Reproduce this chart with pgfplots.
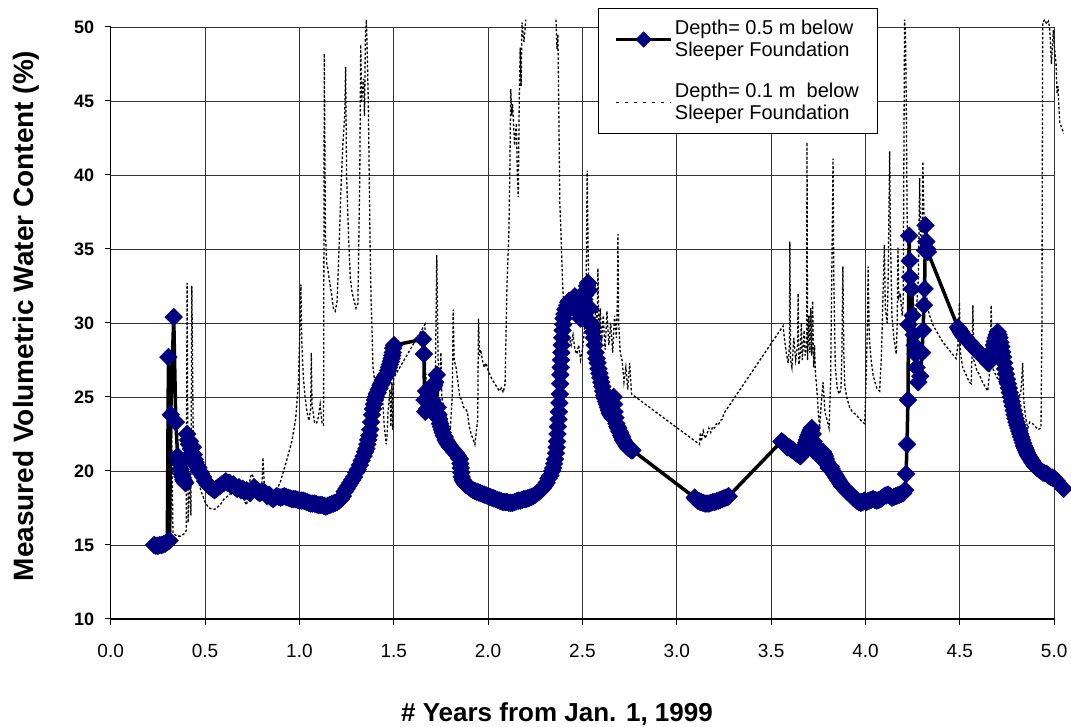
\documentclass[border=0pt]{standalone}
\usepackage{pgfplots}
\pgfplotsset{compat=1.18}
\usepackage{fontspec}
\setmainfont{Liberation Sans}
\definecolor{navy}{RGB}{0,0,128}

\pgfplotstableread{
x y
0.230 15.0
0.240 14.95
0.250 14.95
0.260 15.0
0.270 15.0
0.280 15.05
0.290 15.1
0.300 15.2
0.306 27.7
0.312 15.3
0.318 23.8
0.334 30.4
0.345 23.3
0.355 21.0
0.360 20.8
0.365 20.5
0.370 20.1
0.375 19.8
0.380 19.6
0.385 19.4
0.390 19.3
0.395 19.2
0.405 22.5
0.410 22.1
0.415 21.8
0.420 22.0
0.425 21.5
0.430 21.2
0.436 21.6
0.440 21.1
0.445 20.8
0.450 20.6
0.455 20.4
0.460 20.3
0.465 20.2
0.470 20.0
0.475 19.9
0.480 19.8
0.490 19.6
0.500 19.3
0.510 19.2
0.520 19.0
0.530 18.9
0.540 18.8
0.550 18.7
0.560 18.8
0.570 18.9
0.580 19.0
0.590 19.1
0.600 19.2
0.610 19.3
0.620 19.2
0.630 19.2
0.640 19.0
0.650 19.1
0.660 18.9
0.670 18.8
0.680 18.9
0.690 18.7
0.700 18.8
0.710 18.6
0.720 18.7
0.730 18.6
0.740 18.5
0.750 18.7
0.760 18.9
0.770 18.7
0.780 18.6
0.790 18.5
0.800 18.6
0.810 18.6
0.820 18.5
0.830 18.3
0.840 18.4
0.850 18.2
0.860 18.1
0.870 18.2
0.880 18.3
0.890 18.25
0.900 18.2
0.910 18.25
0.920 18.3
0.930 18.25
0.940 18.2
0.950 18.15
0.960 18.1
0.970 18.1
0.980 18.1
0.990 18.05
1.000 18.0
1.010 18.0
1.020 18.0
1.030 17.95
1.040 17.9
1.050 17.85
1.060 17.8
1.070 17.8
1.080 17.8
1.090 17.75
1.100 17.7
1.110 17.7
1.120 17.7
1.130 17.65
1.140 17.6
1.150 17.65
1.160 17.7
1.170 17.75
1.180 17.8
1.190 17.85
1.200 17.9
1.210 18.0
1.220 18.1
1.230 18.3
1.240 18.6
1.250 18.8
1.260 19.0
1.270 19.2
1.280 19.4
1.290 19.6
1.300 19.9
1.310 20.1
1.320 20.4
1.330 20.7
1.340 21.0
1.348 21.3
1.355 21.5
1.360 21.8
1.365 22.1
1.370 22.4
1.375 22.8
1.380 23.3
1.385 23.8
1.390 24.2
1.395 24.5
1.400 24.8
1.405 25.0
1.410 25.2
1.415 25.3
1.420 25.5
1.425 25.6
1.430 25.8
1.435 25.9
1.440 26.0
1.445 26.2
1.450 26.3
1.455 26.4
1.460 26.5
1.465 26.6
1.470 26.8
1.475 27.0
1.480 27.2
1.485 27.4
1.489 27.6
1.492 27.8
1.495 28.0
1.497 28.3
1.502 28.5
1.655 28.9
1.660 27.9
1.663 24.8
1.667 24.0
1.672 25.4
1.677 24.2
1.683 25.0
1.690 24.4
1.695 24.2
1.700 24.0
1.705 24.8
1.710 25.6
1.715 25.8
1.720 26.0
1.728 26.5
1.733 24.3
1.737 23.8
1.740 23.5
1.745 23.2
1.750 23.0
1.755 22.8
1.760 22.6
1.765 22.4
1.770 22.3
1.775 22.1
1.780 22.0
1.785 21.9
1.790 21.8
1.795 21.7
1.800 21.6
1.805 21.55
1.810 21.5
1.815 21.4
1.820 21.3
1.825 21.25
1.830 21.2
1.835 21.1
1.840 21.0
1.845 20.9
1.850 20.8
1.853 20.5
1.855 20.2
1.858 19.9
1.860 19.6
1.865 19.4
1.870 19.3
1.875 19.2
1.880 19.1
1.885 19.05
1.890 19.0
1.900 18.9
1.910 18.8
1.920 18.7
1.930 18.65
1.940 18.6
1.950 18.55
1.960 18.5
1.970 18.45
1.980 18.4
1.990 18.35
2.000 18.3
2.010 18.25
2.020 18.2
2.030 18.15
2.040 18.1
2.050 18.05
2.060 18.0
2.070 17.95
2.080 17.9
2.090 17.9
2.100 17.9
2.110 17.85
2.120 17.85
2.130 17.85
2.140 17.9
2.150 17.95
2.160 18.0
2.170 18.0
2.180 18.05
2.190 18.1
2.200 18.1
2.210 18.15
2.220 18.2
2.230 18.25
2.240 18.3
2.250 18.4
2.260 18.5
2.270 18.6
2.280 18.7
2.290 18.85
2.300 19.0
2.310 19.2
2.320 19.5
2.330 19.7
2.340 20.0
2.345 20.2
2.350 20.5
2.355 20.8
2.360 21.2
2.363 21.6
2.365 22.0
2.368 22.5
2.370 23.0
2.373 23.5
2.375 24.0
2.378 24.6
2.380 25.2
2.382 25.9
2.383 26.5
2.385 27.0
2.386 27.5
2.388 28.0
2.390 28.5
2.393 29.0
2.395 29.5
2.398 29.9
2.400 30.3
2.405 30.6
2.410 30.9
2.415 31.0
2.420 31.2
2.425 31.4
2.430 31.5
2.435 31.4
2.440 31.3
2.445 31.4
2.450 31.5
2.455 31.7
2.460 31.8
2.465 31.6
2.470 31.4
2.475 31.2
2.480 31.0
2.485 30.6
2.490 30.3
2.495 30.4
2.500 30.6
2.505 31.1
2.510 31.6
2.515 31.9
2.520 32.2
2.525 32.5
2.530 32.7
2.535 32.2
2.540 31.0
2.545 30.0
2.550 29.8
2.555 29.4
2.560 29.0
2.565 28.5
2.570 28.0
2.575 27.6
2.580 27.3
2.585 26.9
2.590 26.6
2.595 26.3
2.600 26.0
2.605 25.7
2.610 25.4
2.615 25.1
2.620 24.9
2.625 24.7
2.630 24.5
2.635 24.3
2.640 24.1
2.645 23.9
2.650 23.8
2.655 23.7
2.660 23.6
2.665 25.0
2.668 24.5
2.670 24.0
2.675 23.6
2.680 23.2
2.685 23.0
2.690 22.9
2.695 22.7
2.700 22.6
2.705 22.4
2.710 22.3
2.715 22.1
2.720 22.0
2.725 21.9
2.730 21.8
2.735 21.7
2.740 21.6
2.745 21.55
2.750 21.5
2.755 21.45
2.760 21.4
2.765 21.4
3.095 18.2
3.100 18.1
3.110 18.0
3.120 17.95
3.125 17.9
3.130 17.9
3.140 17.85
3.150 17.8
3.160 17.8
3.170 17.8
3.180 17.85
3.190 17.9
3.200 17.9
3.210 17.95
3.220 18.0
3.230 18.05
3.240 18.1
3.250 18.15
3.260 18.2
3.270 18.25
3.275 18.3
3.555 22.0
3.560 21.95
3.565 21.9
3.570 21.85
3.575 21.8
3.580 21.7
3.585 21.6
3.590 21.6
3.595 21.6
3.600 21.55
3.605 21.5
3.610 21.45
3.615 21.4
3.620 21.35
3.625 21.3
3.630 21.25
3.635 21.2
3.640 21.15
3.645 21.1
3.650 21.05
3.655 21.0
3.660 21.1
3.665 21.2
3.670 21.35
3.675 21.5
3.680 21.7
3.685 21.9
3.690 22.1
3.695 22.3
3.700 22.45
3.705 22.6
3.710 22.75
3.715 22.9
3.720 22.5
3.725 22.0
3.730 21.8
3.735 21.6
3.740 21.4
3.745 21.2
3.750 21.1
3.755 21.0
3.760 20.95
3.765 20.9
3.770 21.1
3.775 21.3
3.780 21.15
3.785 21.0
3.790 20.8
3.795 20.6
3.800 20.4
3.805 20.2
3.810 20.25
3.815 20.3
3.820 20.15
3.825 20.0
3.830 19.9
3.835 19.8
3.840 19.7
3.845 19.6
3.850 19.5
3.855 19.4
3.860 19.3
3.865 19.2
3.870 19.1
3.875 19.0
3.880 18.95
3.885 18.9
3.890 18.8
3.895 18.7
3.900 18.65
3.905 18.6
3.910 18.55
3.915 18.5
3.920 18.45
3.925 18.4
3.930 18.3
3.935 18.2
3.940 18.15
3.945 18.1
3.950 18.05
3.955 18.0
3.960 17.95
3.965 17.9
3.970 17.9
3.975 17.85
3.980 17.9
3.985 17.9
3.990 17.95
3.995 18.0
4.005 17.9
4.010 17.95
4.020 18.0
4.030 18.05
4.040 18.1
4.050 18.05
4.060 18.0
4.070 18.05
4.080 18.1
4.090 18.2
4.100 18.3
4.110 18.35
4.120 18.4
4.130 18.3
4.140 18.2
4.150 18.25
4.160 18.3
4.170 18.35
4.180 18.4
4.190 18.45
4.200 18.5
4.210 18.7
4.215 19.8
4.220 21.8
4.225 24.8
4.228 29.9
4.231 35.9
4.234 34.2
4.237 33.1
4.245 32.3
4.250 30.5
4.255 29.2
4.260 28.5
4.265 27.9
4.270 27.0
4.280 26.0
4.290 26.4
4.300 28.0
4.305 29.5
4.310 31.2
4.313 32.3
4.316 34.9
4.318 36.6
4.322 35.5
4.326 35.0
4.330 34.8
4.490 29.7
4.495 29.6
4.500 29.5
4.505 29.4
4.510 29.3
4.515 29.2
4.520 29.1
4.525 29.05
4.530 29.0
4.535 28.9
4.540 28.8
4.545 28.75
4.550 28.7
4.555 28.65
4.560 28.6
4.565 28.5
4.570 28.4
4.575 28.35
4.580 28.3
4.585 28.2
4.590 28.1
4.595 28.05
4.600 28.0
4.605 27.95
4.610 27.9
4.615 27.85
4.620 27.8
4.625 27.7
4.630 27.6
4.635 27.55
4.640 27.5
4.645 27.4
4.650 27.3
4.655 27.35
4.660 27.4
4.665 27.6
4.670 27.9
4.675 28.2
4.680 28.5
4.685 28.75
4.690 29.0
4.695 29.2
4.700 29.4
4.705 29.2
4.710 29.0
4.715 28.7
4.720 28.4
4.725 28.05
4.730 27.7
4.735 27.3
4.740 26.9
4.745 26.55
4.750 26.2
4.755 25.9
4.760 25.6
4.765 25.3
4.770 25.0
4.775 24.7
4.780 24.4
4.785 24.1
4.790 23.8
4.795 23.55
4.800 23.3
4.805 23.1
4.810 22.9
4.815 22.7
4.820 22.5
4.825 22.3
4.830 22.1
4.835 21.9
4.840 21.7
4.845 21.55
4.850 21.4
4.855 21.25
4.860 21.1
4.865 21.0
4.870 20.9
4.875 20.8
4.880 20.7
4.885 20.6
4.890 20.5
4.895 20.4
4.900 20.3
4.910 20.2
4.920 20.1
4.930 20.0
4.940 19.9
4.950 19.85
4.960 19.8
4.970 19.7
4.980 19.6
4.990 19.55
5.000 19.5
5.015 19.3
5.050 18.8
}\deepA

\pgfplotstableread{
x y
0.318 15.3
0.322 23.7
0.330 15.8
0.350 15.6
0.370 15.6
0.395 15.8
0.400 16.0
0.405 32.7
0.410 16.5
0.420 20.0
0.425 17.0
0.430 32.5
0.438 21.5
0.445 20.3
0.460 19.5
0.480 18.6
0.500 17.9
0.520 17.5
0.550 17.4
0.580 17.7
0.600 18.1
0.630 18.4
0.660 18.9
0.680 18.6
0.700 18.2
0.720 17.7
0.730 18.5
0.740 19.6
0.750 19.8
0.760 19.3
0.770 18.6
0.780 18.3
0.800 18.6
0.807 20.9
0.815 18.8
0.840 18.5
0.860 18.5
0.880 18.7
0.900 19.3
0.930 20.6
0.960 22.0
0.980 23.5
0.995 26.0
1.003 30.0
1.008 32.6
1.012 29.0
1.020 26.5
1.030 25.0
1.040 24.0
1.050 23.4
1.060 24.2
1.063 28.0
1.067 24.5
1.080 23.3
1.090 23.2
1.100 23.6
1.110 24.5
1.120 23.2
1.128 23.1
1.132 48.2
1.138 36.0
1.145 34.0
1.150 33.7
1.160 32.8
1.170 32.0
1.180 31.0
1.190 30.8
1.200 31.5
1.210 35.0
1.220 39.0
1.230 42.0
1.240 44.0
1.245 47.3
1.250 40.0
1.260 36.0
1.270 33.0
1.280 32.0
1.290 31.5
1.300 31.0
1.310 31.3
1.320 40.0
1.325 48.8
1.330 45.0
1.340 46.5
1.345 44.0
1.350 49.5
1.355 50.5
1.360 48.0
1.365 45.0
1.370 40.0
1.375 35.0
1.380 31.5
1.385 29.5
1.390 27.0
1.400 26.0
1.410 25.4
1.420 25.8
1.430 25.6
1.440 25.0
1.450 23.0
1.460 21.8
1.465 22.5
1.470 24.0
1.480 25.5
1.485 23.0
1.490 26.0
1.495 22.8
1.500 26.3
1.665 29.9
1.668 27.0
1.675 25.4
1.690 26.0
1.700 25.2
1.720 25.8
1.728 34.6
1.735 27.5
1.745 26.0
1.750 28.0
1.755 25.0
1.770 24.0
1.790 23.0
1.800 22.9
1.810 25.0
1.815 30.9
1.820 27.5
1.830 27.0
1.840 26.0
1.850 25.0
1.860 24.8
1.870 24.3
1.880 24.2
1.890 24.0
1.900 23.0
1.910 22.5
1.930 21.8
1.945 23.5
1.949 30.3
1.955 27.8
1.960 28.2
1.970 27.5
1.980 27.0
1.990 27.3
2.000 26.8
2.010 26.5
2.020 26.2
2.030 26.0
2.040 25.8
2.050 25.6
2.060 25.4
2.070 25.6
2.080 25.3
2.090 25.9
2.100 32.6
2.110 36.0
2.115 40.0
2.120 45.8
2.125 44.0
2.130 44.8
2.140 42.0
2.150 43.5
2.155 40.0
2.160 38.5
2.165 45.0
2.170 48.6
2.175 46.0
2.180 50.3
2.190 49.0
2.200 50.5
}\shallowA

\pgfplotstableread{
x y
2.360 50.5
2.365 48.5
2.370 49.5
2.375 44.0
2.380 38.1
2.385 36.5
2.390 34.5
2.395 32.6
2.400 31.5
2.410 30.0
2.420 29.5
2.430 29.0
2.440 28.5
2.450 29.2
2.460 28.2
2.470 27.9
2.480 28.5
2.490 27.5
2.500 28.2
2.510 29.5
2.520 33.0
2.525 40.3
2.530 35.0
2.535 31.5
2.540 30.5
2.550 31.5
2.560 29.5
2.570 31.0
2.578 30.0
2.582 33.7
2.588 29.0
2.595 31.0
2.600 28.5
2.610 30.5
2.620 28.2
2.630 30.8
2.640 28.5
2.650 30.0
2.660 28.0
2.670 30.5
2.680 29.0
2.685 31.5
2.688 36.0
2.692 30.0
2.700 28.0
2.710 27.5
2.720 26.0
2.730 27.0
2.740 25.5
2.750 27.3
2.760 25.2
3.120 21.8
3.125 22.6
3.130 22.0
3.140 22.7
3.150 22.2
3.160 22.5
3.170 22.9
3.180 22.6
3.190 23.0
3.200 22.9
3.210 23.2
3.220 23.1
3.230 23.4
3.240 23.5
3.250 23.9
3.563 29.8
3.570 29.0
3.580 28.0
3.590 27.3
3.597 28.5
3.599 35.5
3.603 27.5
3.610 27.0
3.620 29.0
3.630 27.5
3.640 28.5
3.643 32.0
3.647 27.2
3.655 28.0
3.660 30.0
3.665 27.5
3.675 29.5
3.680 27.8
3.688 28.5
3.690 42.2
3.693 27.5
3.700 30.5
3.705 28.0
3.710 31.0
3.715 27.8
3.720 31.5
3.725 27.0
3.730 28.5
3.735 26.5
3.740 25.9
3.750 24.0
3.757 22.9
3.765 24.5
3.775 26.0
3.785 24.0
3.795 23.5
3.807 22.9
3.815 26.0
3.822 34.0
3.828 41.1
3.832 33.0
3.840 27.0
3.850 25.6
3.860 25.2
3.870 25.5
3.875 28.0
3.880 33.8
3.885 28.0
3.890 25.8
3.900 25.0
3.916 24.3
3.930 24.0
3.950 23.8
3.970 23.5
3.985 23.3
3.996 23.2
4.005 27.0
4.010 30.0
4.014 33.8
4.020 29.0
4.030 27.5
4.040 26.5
4.050 26.0
4.060 25.6
4.075 25.4
4.085 28.0
4.095 33.0
4.100 35.3
4.105 31.0
4.115 30.0
4.120 33.0
4.128 41.6
4.132 36.0
4.140 30.5
4.150 29.0
4.163 27.9
4.168 30.0
4.172 35.1
4.176 31.7
4.185 32.0
4.190 31.0
4.195 30.5
4.200 31.5
4.203 40.0
4.207 50.5
4.212 49.5
4.216 45.0
4.220 38.0
4.225 32.0
4.233 31.2
4.240 30.5
4.250 31.5
4.260 31.0
4.270 30.8
4.280 33.0
4.287 39.8
4.292 35.0
4.300 36.0
4.304 40.9
4.310 37.0
4.315 34.0
4.320 32.5
4.330 31.0
4.340 30.5
4.360 29.8
4.410 28.7
4.480 27.6
4.490 28.5
4.498 31.4
4.503 28.0
4.515 27.0
4.533 26.5
4.550 26.0
4.560 25.9
4.565 28.0
4.569 31.2
4.574 27.5
4.590 26.8
4.604 26.5
4.620 26.0
4.648 25.4
4.660 27.0
4.666 31.2
4.672 27.0
4.690 26.5
4.710 26.0
4.730 25.6
4.750 25.4
4.770 25.2
4.790 25.0
4.810 24.8
4.825 25.5
4.833 27.3
4.838 25.0
4.842 24.3
4.850 23.5
4.860 22.9
4.870 23.3
4.886 23.2
4.900 23.0
4.915 22.8
4.930 22.9
4.935 30.0
4.939 50.3
4.950 50.5
4.960 50.2
4.970 50.4
4.975 50.0
4.980 49.0
4.985 47.5
4.990 48.5
4.995 49.8
5.000 48.8
5.010 47.5
5.015 45.5
5.020 46.0
5.025 44.5
5.030 43.5
5.040 43.2
5.050 42.8
}\shallowB

\begin{document}
\begin{tikzpicture}
\begin{axis}[
  name=ax,
  at={(0,0)}, anchor=south west,
  scale only axis,
  width=943.5pt, height=592pt,
  xmin=0, xmax=5, ymin=10, ymax=50,
  clip=false,
  axis x line=bottom, axis y line=left,
  axis line style={-, line width=1.2pt, black},
  xtick={0,0.5,1,1.5,2,2.5,3,3.5,4,4.5,5},
  ytick={10,15,20,25,30,35,40,45,50},
  tick align=outside, major tick length=6pt,
  tick style={black, line width=1pt},
  grid=major, grid style={black!80, line width=0.8pt},
  /pgf/number format/assume math mode=true,
  xticklabel style={font=\fontsize{19}{20}\selectfont, yshift=-16pt, /pgf/number format/.cd, fixed, fixed zerofill, precision=1},
  yticklabel style={font=\fontsize{18}{20}\selectfont\bfseries, xshift=-7pt},
  xlabel={\# Years from Jan. 1, 1999},
  ylabel={Measured Volumetric Water Content (\%)},
  xlabel style={font=\fontsize{26}{28}\selectfont\bfseries, at={(axis description cs:0.473,-0.16)}, anchor=center},
  ylabel style={font=\fontsize{28}{30}\selectfont\bfseries, at={(axis description cs:-0.09,0.512)}, anchor=center},
  legend style={at={(axis description cs:0.5165,1.032)}, anchor=north west,
    draw=black, line width=0.8pt, fill=white,
    font=\fontsize{20}{22}\selectfont,
    inner xsep=16pt, inner ysep=10pt, row sep=21pt,
    cells={anchor=west, align=left}},
  legend image code/.code={\draw[mark repeat=2,mark phase=2,#1] plot coordinates {(0pt,0pt) (27.5pt,0pt) (55pt,0pt)};},
]
\addplot[forget plot, black, line width=3.5pt, line join=round,
  mark=square*, mark size=6.3pt,
  mark options={rotate=45, solid, fill=navy, draw=navy, line width=0.4pt}]
  table[x=x,y=y] {\deepA};
\addplot[forget plot, black, line width=1.3pt, dash pattern=on 2.5pt off 2pt]
  table[x=x,y=y] {\shallowA};
\addplot[forget plot, black, line width=1.3pt, dash pattern=on 2.5pt off 2pt]
  table[x=x,y=y] {\shallowB};
\addlegendimage{black, line width=3.5pt, mark=square*, mark size=5.5pt,
  mark options={rotate=45, solid, fill=navy, draw=navy, line width=0.4pt}}
\addlegendentry{Depth= 0.5 m below\\Sleeper Foundation}
\addlegendimage{black, line width=1.1pt, dash pattern=on 3pt off 6pt}
\addlegendentry{Depth= 0.1 m~ below\\Sleeper Foundation}
\end{axis}
\pgfresetboundingbox
\useasboundingbox ([shift={(-110.7pt,-108pt)}]ax.south west) rectangle ([shift={(960.3pt,619pt)}]ax.south west);
\end{tikzpicture}
\end{document}
